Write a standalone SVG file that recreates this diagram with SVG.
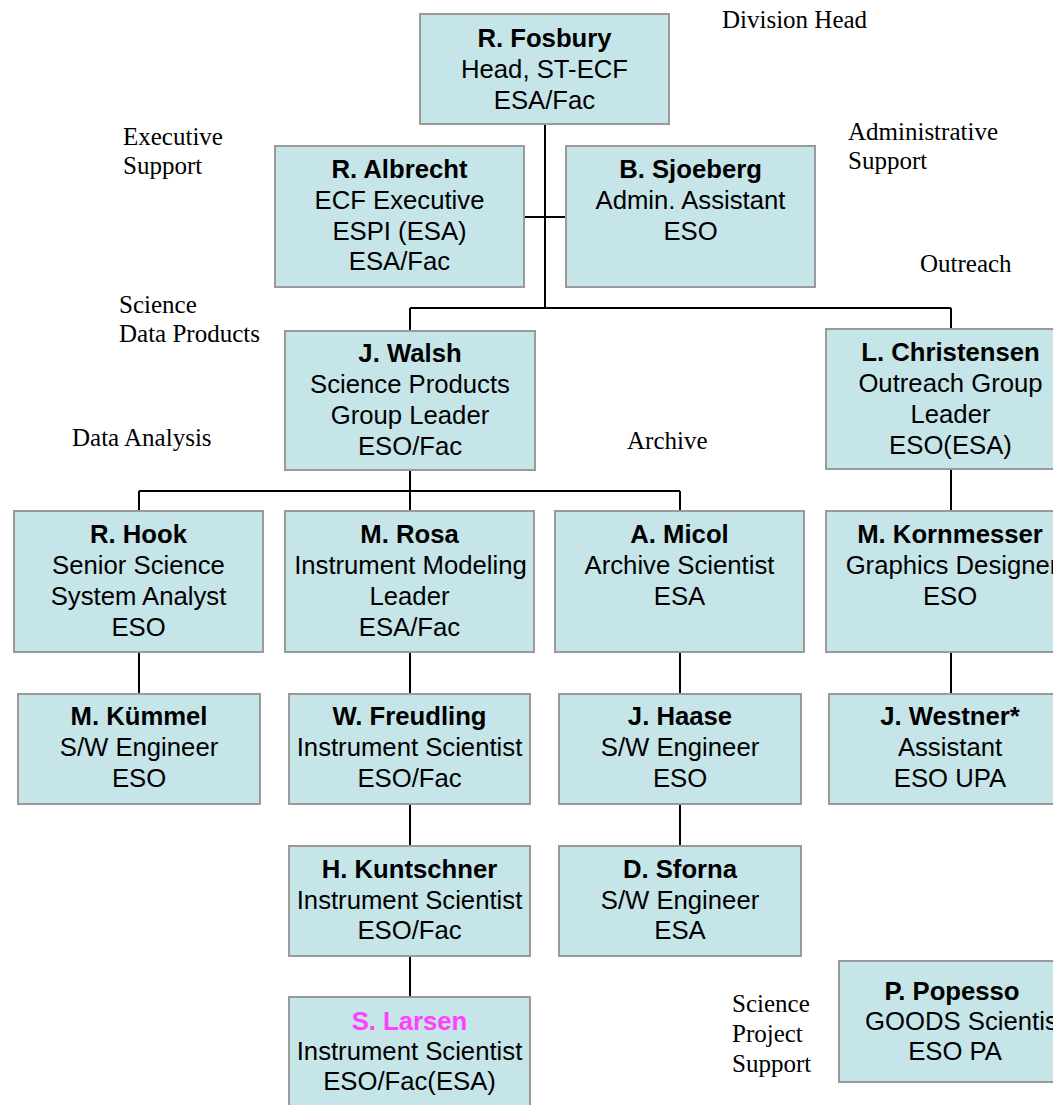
<svg xmlns="http://www.w3.org/2000/svg" width="1053" height="1105" viewBox="0 0 1053 1105">
<style>
.box{fill:#C6E5E9;stroke:#9A9A9A;stroke-width:2}
.t{font-family:"Liberation Sans",Arial,sans-serif;font-size:25.7px;fill:#000;text-anchor:middle}
.b{font-weight:bold}
.lbl{font-family:"Liberation Serif","Times New Roman",serif;font-size:25px;fill:#000}
.c{stroke:#000;stroke-width:2;fill:none}
</style>
<rect width="1053" height="1105" fill="#fff"/>
<g id="connectors">
<path class="c" d="M545,124V308M524,217H566M410,308H951M410,308V331M951,308V329"/>
<path class="c" d="M410,470V511M139,491H680M139,491V511M680,491V511"/>
<path class="c" d="M139,652V697M410,652V697M410,804V846M410,956V997M680,652V694M680,804V846M951,469V511M951,652V694"/>
</g>
<g id="labels">
<text class="lbl" x="722" y="28">Division Head</text>
<text class="lbl" x="123" y="145">Executive</text>
<text class="lbl" x="123" y="174">Support</text>
<text class="lbl" x="848" y="140">Administrative</text>
<text class="lbl" x="848" y="169">Support</text>
<text class="lbl" x="920" y="272">Outreach</text>
<text class="lbl" x="119" y="313">Science</text>
<text class="lbl" x="119" y="342">Data Products</text>
<text class="lbl" x="72" y="446">Data Analysis</text>
<text class="lbl" x="627" y="449">Archive</text>
<text class="lbl" x="732" y="1012">Science</text>
<text class="lbl" x="732" y="1042">Project</text>
<text class="lbl" x="732" y="1072">Support</text>
</g>
<g id="fosbury"><rect class="box" x="420" y="14" width="249" height="110"/>
<text class="t b" x="544.5" y="47">R. Fosbury</text><text class="t" x="544.5" y="78">Head, ST-ECF</text><text class="t" x="544.5" y="109">ESA/Fac</text></g>
<g id="albrecht"><rect class="box" x="275" y="146" width="249" height="141"/>
<text class="t b" x="399.5" y="178">R. Albrecht</text><text class="t" x="399.5" y="209">ECF Executive</text><text class="t" x="399.5" y="240">ESPI (ESA)</text><text class="t" x="399.5" y="270">ESA/Fac</text></g>
<g id="sjoeberg"><rect class="box" x="566" y="146" width="249" height="141"/>
<text class="t b" x="690.5" y="178">B. Sjoeberg</text><text class="t" x="690.5" y="209">Admin. Assistant</text><text class="t" x="690.5" y="240">ESO</text></g>
<g id="walsh"><rect class="box" x="285" y="331" width="250" height="139"/>
<text class="t b" x="410" y="362">J. Walsh</text><text class="t" x="410" y="393">Science Products</text><text class="t" x="410" y="424">Group Leader</text><text class="t" x="410" y="455">ESO/Fac</text></g>
<g id="christensen"><rect class="box" x="826" y="329" width="249" height="140"/>
<text class="t b" x="950.5" y="361">L. Christensen</text><text class="t" x="950.5" y="392">Outreach Group</text><text class="t" x="950.5" y="423">Leader</text><text class="t" x="950.5" y="454">ESO(ESA)</text></g>
<g id="hook"><rect class="box" x="14" y="511" width="249" height="141"/>
<text class="t b" x="138.5" y="543">R. Hook</text><text class="t" x="138.5" y="574">Senior Science</text><text class="t" x="138.5" y="605">System Analyst</text><text class="t" x="138.5" y="636">ESO</text></g>
<g id="rosa"><rect class="box" x="285" y="511" width="249" height="141"/>
<text class="t b" x="409.5" y="543">M. Rosa</text><text class="t" x="410.5" y="574">Instrument Modeling</text><text class="t" x="409.5" y="605">Leader</text><text class="t" x="409.5" y="636">ESA/Fac</text></g>
<g id="micol"><rect class="box" x="555" y="511" width="249" height="141"/>
<text class="t b" x="679.5" y="543">A. Micol</text><text class="t" x="679.5" y="574">Archive Scientist</text><text class="t" x="679.5" y="605">ESA</text></g>
<g id="kornmesser"><rect class="box" x="826" y="511" width="249" height="141"/>
<text class="t b" x="950" y="543">M. Kornmesser</text><text class="t" x="952" y="574">Graphics Designer</text><text class="t" x="950" y="605">ESO</text></g>
<g id="kummel"><rect class="box" x="18" y="694" width="242" height="110"/>
<text class="t b" x="139" y="725">M. Kümmel</text><text class="t" x="139" y="756">S/W Engineer</text><text class="t" x="139" y="787">ESO</text></g>
<g id="freudling"><rect class="box" x="289" y="694" width="241" height="110"/>
<text class="t b" x="409.5" y="725">W. Freudling</text><text class="t" x="409.5" y="756">Instrument Scientist</text><text class="t" x="409.5" y="787">ESO/Fac</text></g>
<g id="haase"><rect class="box" x="559" y="694" width="242" height="110"/>
<text class="t b" x="680" y="725">J. Haase</text><text class="t" x="680" y="756">S/W Engineer</text><text class="t" x="680" y="787">ESO</text></g>
<g id="westner"><rect class="box" x="829" y="694" width="242" height="110"/>
<text class="t b" x="950" y="725">J. Westner*</text><text class="t" x="950" y="756">Assistant</text><text class="t" x="950" y="787">ESO UPA</text></g>
<g id="kuntschner"><rect class="box" x="289" y="846" width="241" height="110"/>
<text class="t b" x="409.5" y="878">H. Kuntschner</text><text class="t" x="409.5" y="909">Instrument Scientist</text><text class="t" x="409.5" y="939">ESO/Fac</text></g>
<g id="sforna"><rect class="box" x="559" y="846" width="242" height="110"/>
<text class="t b" x="680" y="878">D. Sforna</text><text class="t" x="680" y="909">S/W Engineer</text><text class="t" x="680" y="939">ESA</text></g>
<g id="larsen"><rect class="box" x="289" y="997" width="241" height="120"/>
<text class="t b" x="409.5" y="1030" style="fill:#FF40FF">S. Larsen</text><text class="t" x="409.5" y="1060">Instrument Scientist</text><text class="t" x="409.5" y="1090">ESO/Fac(ESA)</text></g>
<g id="popesso"><rect class="box" x="839" y="961" width="242" height="121"/>
<text class="t b" x="952" y="1000">P. Popesso</text><text class="t" x="965" y="1030">GOODS Scientist</text><text class="t" x="955" y="1060">ESO PA</text></g>
</svg>
